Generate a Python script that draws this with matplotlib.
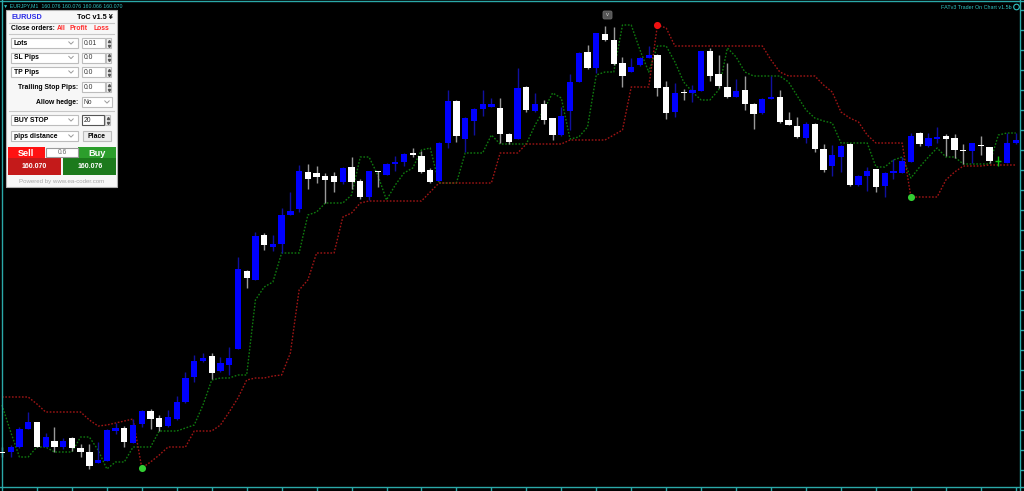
import numpy as np
import matplotlib
matplotlib.use('Agg')
import matplotlib.pyplot as plt
from matplotlib.patches import Rectangle, FancyBboxPatch, Circle

# EURJPY M1 candles (price); first bar is cut by the left edge
opens = [159.760,
         159.760, 159.765, 159.783, 159.790, 159.765, 159.771, 159.765, 159.774, 159.764, 159.760,
         159.749, 159.751, 159.781, 159.784, 159.769, 159.788, 159.801, 159.794, 159.786, 159.793,
         159.810, 159.835, 159.851, 159.856, 159.841, 159.847, 159.863, 159.941, 159.932, 159.977,
         159.965, 159.968, 159.997, 160.003, 160.040, 160.039, 160.036, 160.036, 160.030, 160.045,
         160.031, 160.015, 160.041, 160.037, 160.048, 160.050, 160.059, 160.056, 160.042, 160.031,
         160.069, 160.111, 160.073, 160.091, 160.103, 160.105, 160.104, 160.078, 160.073, 160.125,
         160.101, 160.108, 160.094, 160.077, 160.101, 160.130, 160.160, 160.144, 160.178, 160.172,
         160.149, 160.140, 160.147, 160.154, 160.157, 160.125, 160.100, 160.120, 160.119, 160.121,
         160.161, 160.138, 160.125, 160.115, 160.122, 160.108, 160.099, 160.113, 160.115, 160.092,
         160.086, 160.074, 160.088, 160.063, 160.046, 160.055, 160.068, 160.027, 160.036, 160.043,
         160.026, 160.039, 160.039, 160.050, 160.079, 160.066, 160.073, 160.076, 160.074, 160.062,
         160.061, 160.067, 160.065, 160.051, 160.049, 160.069]
highs = [159.765,
         159.767, 159.785, 159.800, 159.790, 159.779, 159.785, 159.774, 159.775, 159.768, 159.768,
         159.770, 159.783, 159.789, 159.786, 159.793, 159.802, 159.803, 159.797, 159.802, 159.816,
         159.840, 159.857, 159.859, 159.859, 159.855, 159.865, 159.955, 159.942, 159.980, 159.979,
         159.977, 160.004, 160.020, 160.047, 160.048, 160.046, 160.039, 160.040, 160.045, 160.055,
         160.033, 160.041, 160.041, 160.049, 160.056, 160.059, 160.064, 160.061, 160.044, 160.070,
         160.122, 160.112, 160.095, 160.104, 160.122, 160.114, 160.114, 160.079, 160.144, 160.126,
         160.119, 160.112, 160.094, 160.105, 160.138, 160.160, 160.167, 160.179, 160.186, 160.185,
         160.155, 160.154, 160.155, 160.166, 160.158, 160.131, 160.129, 160.123, 160.127, 160.161,
         160.164, 160.157, 160.149, 160.133, 160.136, 160.109, 160.114, 160.136, 160.122, 160.100,
         160.095, 160.090, 160.089, 160.068, 160.067, 160.067, 160.069, 160.037, 160.045, 160.043,
         160.040, 160.053, 160.055, 160.079, 160.080, 160.079, 160.085, 160.078, 160.078, 160.068,
         160.069, 160.076, 160.065, 160.056, 160.079, 160.079]
lows = [159.755,
        159.755, 159.764, 159.783, 159.765, 159.765, 159.760, 159.763, 159.761, 159.755, 159.743,
        159.749, 159.751, 159.778, 159.765, 159.769, 159.785, 159.783, 159.781, 159.785, 159.792,
        159.809, 159.830, 159.850, 159.833, 159.840, 159.837, 159.863, 159.924, 159.932, 159.962,
        159.961, 159.959, 159.997, 160.000, 160.023, 160.029, 160.009, 160.020, 160.028, 160.023,
        160.013, 160.012, 160.025, 160.037, 160.041, 160.046, 160.055, 160.039, 160.029, 160.031,
        160.064, 160.070, 160.060, 160.077, 160.096, 160.105, 160.069, 160.068, 160.073, 160.100,
        160.100, 160.088, 160.072, 160.076, 160.082, 160.130, 160.143, 160.139, 160.171, 160.147,
        160.125, 160.140, 160.146, 160.154, 160.116, 160.093, 160.095, 160.112, 160.110, 160.121,
        160.131, 160.124, 160.114, 160.115, 160.102, 160.083, 160.098, 160.113, 160.089, 160.087,
        160.074, 160.069, 160.060, 160.040, 160.036, 160.040, 160.026, 160.026, 160.021, 160.020,
        160.015, 160.033, 160.039, 160.050, 160.066, 160.065, 160.069, 160.056, 160.054, 160.048,
        160.049, 160.057, 160.049, 160.046, 160.049, 160.068]
closes = [159.759,
          159.765, 159.783, 159.790, 159.765, 159.775, 159.765, 159.771, 159.764, 159.760, 159.746,
          159.752, 159.782, 159.784, 159.770, 159.787, 159.801, 159.793, 159.785, 159.795, 159.810,
          159.834, 159.851, 159.854, 159.839, 159.849, 159.854, 159.943, 159.934, 159.976, 159.967,
          159.968, 159.997, 160.001, 160.041, 160.033, 160.035, 160.032, 160.030, 160.044, 160.030,
          160.015, 160.041, 160.040, 160.048, 160.050, 160.058, 160.057, 160.040, 160.030, 160.069,
          160.111, 160.076, 160.094, 160.103, 160.108, 160.108, 160.078, 160.070, 160.124, 160.102,
          160.108, 160.092, 160.077, 160.096, 160.130, 160.159, 160.144, 160.179, 160.172, 160.148,
          160.136, 160.145, 160.154, 160.157, 160.124, 160.099, 160.119, 160.119, 160.122, 160.161,
          160.136, 160.126, 160.115, 160.121, 160.108, 160.098, 160.113, 160.115, 160.090, 160.087,
          160.075, 160.088, 160.063, 160.042, 160.057, 160.066, 160.027, 160.036, 160.041, 160.025,
          160.039, 160.041, 160.051, 160.076, 160.068, 160.074, 160.075, 160.073, 160.062, 160.061,
          160.069, 160.066, 160.051, 160.051, 160.069, 160.072]

# indicator lines
trend_line = [159.807,
              159.780, 159.755, 159.755, 159.765, 159.765, 159.760, 159.760, 159.760, 159.775, 159.775,
              159.762, 159.743, 159.750, 159.750, 159.765, 159.765, 159.765, 159.781, 159.781, 159.781,
              159.784, 159.787, 159.807, 159.832, 159.834, 159.834, 159.837, 159.837, 159.912, 159.925,
              159.930, 159.959, 159.959, 159.959, 159.997, 160.000, 160.009, 160.009, 160.009, 160.017,
              160.055, 160.055, 160.037, 160.012, 160.027, 160.039, 160.044, 160.062, 160.064, 160.029,
              160.029, 160.029, 160.059, 160.059, 160.059, 160.077, 160.068, 160.068, 160.068, 160.068,
              160.087, 160.102, 160.119, 160.114, 160.073, 160.075, 160.085, 160.137, 160.140, 160.140,
              160.187, 160.187, 160.162, 160.140, 160.166, 160.166, 160.150, 160.130, 160.120, 160.112,
              160.112, 160.122, 160.164, 160.155, 160.140, 160.136, 160.136, 160.136, 160.136, 160.130,
              160.116, 160.102, 160.094, 160.091, 160.089, 160.069, 160.069, 160.069, 160.069, 160.045,
              160.045, 160.052, 160.055, 160.034, 160.045, 160.055, 160.064, 160.055, 160.055, 160.048,
              160.048, 160.048, 160.048, 160.077, 160.079, 160.079]
stop_line = [159.815,
             159.815, 159.815, 159.815, 159.808, 159.800, 159.800, 159.800, 159.800, 159.800, 159.792,
             159.786, 159.787, 159.789, 159.791, 159.793, 159.744, 159.750, 159.757, 159.765, 159.765,
             159.765, 159.781, 159.781, 159.781, 159.787, 159.800, 159.814, 159.832, 159.834, 159.834,
             159.836, 159.837, 159.859, 159.922, 159.932, 159.959, 159.959, 159.959, 159.995, 159.999,
             160.009, 160.011, 160.011, 160.011, 160.011, 160.011, 160.011, 160.011, 160.020, 160.029,
             160.029, 160.029, 160.029, 160.029, 160.029, 160.029, 160.059, 160.059, 160.059, 160.068,
             160.068, 160.068, 160.068, 160.068, 160.072, 160.072, 160.072, 160.072, 160.072, 160.077,
             160.082, 160.125, 160.125, 160.125, 160.187, 160.184, 160.166, 160.166, 160.166, 160.166,
             160.166, 160.166, 160.166, 160.166, 160.166, 160.166, 160.166, 160.152, 160.140, 160.136,
             160.136, 160.136, 160.136, 160.127, 160.120, 160.100, 160.094, 160.090, 160.077, 160.069,
             160.069, 160.069, 160.069, 160.015, 160.015, 160.015, 160.015, 160.032, 160.040, 160.046,
             160.046, 160.046, 160.047, 160.047, 160.047, 160.047]
up_flips = [16, 104]
down_flips = [75]

symbol_line = '▼ EURJPY,M1  160.076 160.076 160.066 160.070'
ea_title = 'FATv3 Trader On Chart v1.5b'
bid, ask, spread = '160.070', '160.076', '0.6'

FONT = ['Liberation Sans', 'DejaVu Sans']
TEAL = '#2aa8a8'

o = np.array(opens); h = np.array(highs); l = np.array(lows); c = np.array(closes)
x = np.arange(len(o)) - 1

fig = plt.figure(figsize=(10.24, 4.91), dpi=100, facecolor='black')
ax = fig.add_axes([0, 0, 1, 1])
ax.set_facecolor('black')

up = c > o
dn = c < o
flat = c == o
wick_col = np.where(up, '#1010a0', np.where(dn, '#9a9a9a', '#10c010'))
ax.vlines(x, l, h, colors=wick_col, linewidth=1, zorder=2)

body_col = np.where(up, '#0000ff', '#ffffff')
height = np.maximum(np.abs(c - o), 0.0009)
ax.bar(x[~flat], height[~flat], bottom=np.minimum(o, c)[~flat], width=0.72,
       color=body_col[~flat], linewidth=0, zorder=3)
ax.hlines(c[flat], x[flat] - 0.36, x[flat] + 0.36, colors='#10c010', linewidth=1, zorder=3)

ax.plot(x, trend_line, color='#0f7a0f', linestyle=(0, (1.2, 1.2)), linewidth=1, zorder=1)
ax.plot(x, stop_line, color='#a01515', linestyle=(0, (1.2, 1.2)), linewidth=1, zorder=1)
sl = np.array(stop_line)
ax.scatter(x[up_flips], sl[up_flips], s=26, color='#33cc33', zorder=4, linewidths=0)
ax.scatter(x[down_flips], sl[down_flips], s=26, color='#ee1111', zorder=4, linewidths=0)

ax.set_xlim(-1.224, 115.94)
ax.set_ylim(159.721, 160.212)

# chart frame
for side, pos in [('left', 2 / 1024), ('right', 1020 / 1024), ('bottom', 4 / 491), ('top', 1 - 1 / 491)]:
    ax.spines[side].set_position(('axes', pos))
    ax.spines[side].set_color(TEAL)
    ax.spines[side].set_linewidth(1)
ax.yaxis.tick_right()
ax.set_xticks(np.arange(3, 116, 4))
ax.set_yticks(np.arange(159.742, 160.21, 0.02))
ax.tick_params(colors=TEAL, direction='out', length=3, width=1,
               labelbottom=False, labelright=False, labelleft=False)

# overlay in pixel coordinates for the trading panel
ui = fig.add_axes([0, 0, 1, 1])
ui.set_xlim(0, 1024)
ui.set_ylim(491, 0)
ui.axis('off')
ui.patch.set_alpha(0)


def box(x0, y0, x1, y1, fc='white', ec='#bdbdbd', lw=0.8, z=5):
    ui.add_patch(Rectangle((x0, y0), x1 - x0, y1 - y0, facecolor=fc, edgecolor=ec, linewidth=lw, zorder=z))


def txt(xx, yy, s, size=4.9, color='black', weight='bold', ha='left'):
    ui.text(xx, yy, s, fontsize=size, color=color, fontweight=weight, ha=ha, va='center',
            family=FONT, zorder=8)


def chevron(xx, yy):
    ui.plot([xx - 2.2, xx, xx + 2.2], [yy - 1.1, yy + 1.1, yy - 1.1], color='#9a9a9a', lw=0.7, zorder=7)


def spinner(x0, y0, y1):
    box(x0, y0, x0 + 5, y1, fc='#f4f4f4', ec='#bdbdbd')
    ui.plot([x0 + 2.5], [y0 + 2.5], marker='^', ms=1.6, color='#555555', zorder=8)
    ui.plot([x0 + 2.5], [y1 - 2.5], marker='v', ms=1.6, color='#555555', zorder=8)


txt(3, 6, symbol_line, size=3.8, color='#30c4c4', weight='normal')
txt(1012, 7, ea_title, size=3.9, color='#30c4c4', weight='normal', ha='right')
ui.add_patch(Circle((1016.5, 7), 2.8, facecolor='none', edgecolor='#30c4c4', linewidth=0.8, zorder=8))

ui.add_patch(FancyBboxPatch((603, 11), 9, 8, boxstyle='round,pad=0,rounding_size=1.5',
                            facecolor='#555555', edgecolor='#6a6a6a', linewidth=0.6, zorder=5))
txt(607.5, 14.6, 'v', size=4.2, color='#cfcfcf', weight='normal', ha='center')

# panel
box(6, 10, 117, 187, fc='#f7f7f7', ec='#b0b0b0', lw=0.8, z=4)
txt(11, 17.5, 'EURUSD', size=5.2, color='#2a2ae6')
txt(113, 17.5, 'ToC v1.5 ¥', size=5.2, ha='right')
ui.plot([9, 114], [23, 23], color='#c8c8c8', lw=0.8, zorder=6)
txt(11, 28.5, 'Close orders:')
txt(57, 28.5, 'All', color='#ff2a2a')
txt(70, 28.5, 'Profit', color='#ff2a2a')
txt(93, 28.5, 'Loss', color='#ff2a2a')
ui.plot([9, 114], [34, 34], color='#c8c8c8', lw=0.8, zorder=6)

rows = [('Lots', '0.01', 38), ('SL Pips', '0.0', 52.5), ('TP Pips', '0.0', 67)]
for name, val, y0 in rows:
    box(11, y0, 78, y0 + 10)
    txt(14, y0 + 5.2, name)
    chevron(71, y0 + 5)
    box(82, y0, 105, y0 + 10)
    txt(83.5, y0 + 5.2, val, color='#333333', weight='normal')
    spinner(106, y0, y0 + 10)

txt(78, 87, 'Trailing Stop Pips:', ha='right')
box(82, 82, 105, 92)
txt(83.5, 87.2, '0.0', color='#333333', weight='normal')
spinner(106, 82, 92)

txt(78, 102, 'Allow hedge:', ha='right')
box(82, 97, 112, 107)
txt(83.5, 102.2, 'No', color='#333333', weight='normal')
chevron(107, 102)
ui.plot([9, 114], [111, 111], color='#c8c8c8', lw=0.8, zorder=6)

box(11, 115, 78, 125)
txt(14, 120.2, 'BUY STOP')
chevron(71, 120)
box(82, 115, 104, 125, ec='#555555')
txt(83.5, 120.2, '20', color='#222222', weight='normal')
spinner(105, 115, 125)

box(11, 131, 78, 141)
txt(14, 136.2, 'pips distance')
chevron(71, 136)
box(83, 131, 111, 141, fc='#eeeeee', ec='#bdbdbd')
txt(97, 136.2, 'Place', ha='center')

# sell / buy buttons
box(7.7, 147, 45, 158, fc='#ff1212', ec='none', lw=0)
box(7.7, 158, 60.5, 175, fc='#c41a1a', ec='none', lw=0)
box(78, 147, 116, 158, fc='#2c9e2c', ec='none', lw=0)
box(62.7, 158, 116, 175, fc='#1c7a1c', ec='none', lw=0)
box(46, 148, 78, 157, fc='white', ec='#9a9a9a')
txt(62, 152.6, spread, size=4.8, color='#666666', weight='normal', ha='center')
txt(26, 153, 'Sell', size=6.6, color='white', ha='center')
txt(97, 153, 'Buy', size=6.6, color='white', ha='center')
txt(34, 167, bid, size=5.0, color='white', ha='center')
txt(90, 167, ask, size=5.0, color='white', ha='center')
txt(62, 181, 'Powered by www.ea-coder.com', size=4.4, color='#a8a8a8', weight='normal', ha='center')

fig.savefig('out.png', dpi=100, facecolor='black')
